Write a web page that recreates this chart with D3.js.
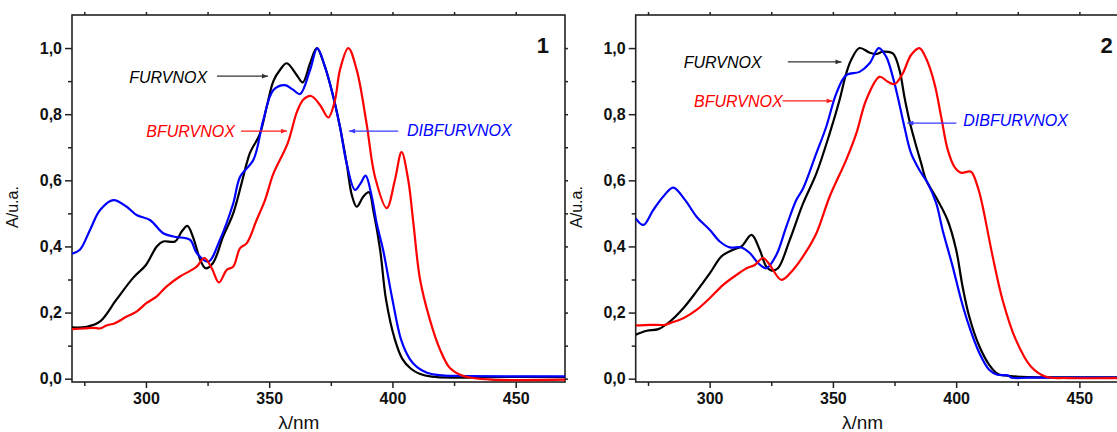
<!DOCTYPE html>
<html>
<head>
<meta charset="utf-8">
<script src="https://cdn.jsdelivr.net/npm/d3@7"></script>
<style>
  body { margin: 0; background: #fff; }
  svg { display: block; }
</style>
</head>
<body>
<div id="chart"></div>
<script>
// ---- data (wavelength nm, absorbance) ----
var xTicks = [300, 350, 400, 450];
var yTicks = [0, 0.2, 0.4, 0.6, 0.8, 1.0];

// panel 1
var p1FurWl  = [270, 276, 281.4, 288, 294.8, 300, 304.4, 307, 311.8, 314.5, 316.8, 319.2, 322, 324.2, 327.2, 331.3, 335.4, 340.9, 342.2, 346.3, 349, 351.7, 354.5, 357.1, 361.2, 363.6, 366.6, 369.3, 372.6, 376, 378.7, 381.4, 383.5, 385.5, 388.2, 390.5, 392.2, 395, 397.4, 401, 404, 407.5, 411, 416, 425, 440, 470];
var p1FurAbs = [0.155, 0.157, 0.173, 0.239, 0.305, 0.344, 0.40, 0.415, 0.415, 0.445, 0.462, 0.426, 0.36, 0.334, 0.35, 0.43, 0.50, 0.652, 0.683, 0.742, 0.823, 0.90, 0.935, 0.954, 0.918, 0.896, 0.954, 1.0, 0.944, 0.853, 0.762, 0.652, 0.556, 0.52, 0.551, 0.564, 0.51, 0.39, 0.239, 0.118, 0.06, 0.03, 0.015, 0.006, 0.003, 0.005, 0.005];

var p1DibWl  = [270, 273.2, 277.3, 281.4, 286.8, 292.2, 296.2, 301.6, 307, 311.1, 317.9, 320.6, 325.3, 330, 335.4, 338.2, 343.6, 347.6, 351.7, 356.4, 359.5, 362.5, 366.6, 369.5, 372.6, 376, 378.7, 381.4, 384.8, 387, 389.1, 391.6, 393.6, 396.2, 400, 403.5, 407, 410, 414, 420, 430, 470];
var p1DibAbs = [0.378, 0.39, 0.45, 0.51, 0.54, 0.52, 0.495, 0.48, 0.44, 0.43, 0.42, 0.38, 0.354, 0.42, 0.53, 0.611, 0.662, 0.782, 0.873, 0.888, 0.875, 0.861, 0.934, 1.0, 0.944, 0.853, 0.762, 0.652, 0.571, 0.59, 0.614, 0.551, 0.47, 0.39, 0.239, 0.118, 0.06, 0.035, 0.018, 0.01, 0.008, 0.007];

var p1BfuWl  = [270, 275, 278.7, 281.4, 284, 287.4, 292.2, 296.2, 300.3, 304.4, 308.4, 313.8, 317.9, 320.6, 323.7, 326.7, 329.6, 332.8, 335.4, 338.2, 340.9, 344.9, 348.3, 351.7, 357.4, 361.4, 364, 367, 370.6, 374, 376.7, 378.7, 382.1, 385.5, 389.5, 392.9, 397.7, 401, 403.7, 406.4, 408.5, 411.2, 415.2, 419.3, 423.3, 427.4, 432.7, 440, 470];
var p1BfuAbs = [0.15, 0.152, 0.154, 0.152, 0.161, 0.168, 0.188, 0.203, 0.229, 0.249, 0.279, 0.309, 0.326, 0.339, 0.365, 0.334, 0.291, 0.329, 0.339, 0.395, 0.41, 0.48, 0.54, 0.62, 0.71, 0.81, 0.845, 0.855, 0.828, 0.79, 0.843, 0.934, 1.0, 0.934, 0.772, 0.611, 0.516, 0.601, 0.685, 0.601, 0.47, 0.30, 0.178, 0.088, 0.032, 0.012, 0.002, -0.003, -0.003];

// panel 2
var p2FurWl  = [270, 274.5, 279.2, 283.9, 289.3, 294.7, 300.1, 304.8, 309.5, 312.9, 317, 320.3, 323, 325.1, 327.7, 332.5, 337.9, 343.3, 348.7, 352.7, 355.4, 357.4, 360.8, 364.9, 367.6, 370.2, 374.3, 377, 379, 381, 383.1, 385.8, 387.8, 391.9, 396.5, 400, 402.6, 405.3, 409.4, 413.4, 416.8, 422, 430, 470];
var p2FurAbs = [0.133, 0.145, 0.15, 0.173, 0.213, 0.264, 0.319, 0.37, 0.39, 0.40, 0.435, 0.39, 0.339, 0.327, 0.334, 0.42, 0.53, 0.621, 0.742, 0.843, 0.923, 0.964, 1.0, 0.986, 0.982, 0.989, 0.984, 0.934, 0.853, 0.782, 0.722, 0.652, 0.601, 0.548, 0.48, 0.39, 0.279, 0.188, 0.098, 0.042, 0.015, 0.008, 0.005, 0.004];

var p2DibWl  = [270, 273.1, 277.1, 281.2, 285.2, 290, 294.7, 300.1, 304.1, 308.2, 312.9, 316.3, 319.6, 323, 327.1, 331.1, 335.2, 337.9, 343.3, 347.3, 351.4, 355.4, 360.8, 364.9, 368.6, 371.6, 374.3, 376.3, 379, 381.7, 385.1, 388.5, 391.9, 394.5, 398.6, 402, 405.3, 409.4, 413.4, 416.7, 421, 422.5, 430, 470];
var p2DibAbs = [0.485, 0.465, 0.51, 0.551, 0.578, 0.541, 0.49, 0.45, 0.415, 0.397, 0.397, 0.38, 0.35, 0.334, 0.375, 0.46, 0.541, 0.575, 0.682, 0.762, 0.863, 0.918, 0.928, 0.954, 1.0, 0.974, 0.913, 0.853, 0.762, 0.682, 0.631, 0.591, 0.531, 0.45, 0.339, 0.239, 0.158, 0.078, 0.027, 0.012, 0.01, 0.003, 0.003, 0.003];

var p2BfuWl  = [270, 276, 282, 283.9, 289.3, 294.7, 300.1, 305.5, 310.9, 315, 318.3, 321.7, 324.4, 329.1, 333.8, 339.2, 343.3, 348.7, 355.4, 359.5, 363.5, 368.9, 372.3, 375, 378.3, 381.7, 385.1, 387.8, 391.2, 393.9, 396.6, 399.3, 402, 406, 408.7, 410.5, 414.8, 418.8, 424.2, 430.3, 436.4, 445, 470];
var p2BfuAbs = [0.161, 0.163, 0.163, 0.168, 0.183, 0.208, 0.244, 0.284, 0.314, 0.334, 0.344, 0.365, 0.344, 0.299, 0.329, 0.385, 0.44, 0.551, 0.662, 0.742, 0.843, 0.913, 0.898, 0.891, 0.923, 0.979, 1.0, 0.969, 0.893, 0.793, 0.692, 0.641, 0.623, 0.626, 0.581, 0.53, 0.37, 0.239, 0.118, 0.037, 0.006, 0.002, 0.002];

var seriesNames  = ["FURVNOX", "BFURVNOX", "DIBFURVNOX"];
var seriesColors = ["#000000", "#ff0000", "#0000ff"];
var arrowColors  = ["#333333", "#ff2020", "#3a3aff"];

function zip(wl, ab){ return wl.map(function(w, i){ return [w, ab[i]]; }); }

function init(){

  var panels = [
    { left: 72, tag: "1",
      series: [zip(p1FurWl, p1FurAbs), zip(p1BfuWl, p1BfuAbs), zip(p1DibWl, p1DibAbs)],
      // label anchor (nm, A), arrow from/to nm, arrow A
      notes: [
        { tx: 324.8, ty: 0.894, anchor: "end",   ax1: 328.8, ax2: 349.5, ay: 0.915 },
        { tx: 336.1, ty: 0.731, anchor: "end",   ax1: 338.6, ax2: 357.2, ay: 0.749 },
        { tx: 405.9, ty: 0.734, anchor: "start", ax1: 402.3, ax2: 382.4, ay: 0.749 }
      ] },
    { left: 635.7, tag: "2",
      series: [zip(p2FurWl, p2FurAbs), zip(p2BfuWl, p2BfuAbs), zip(p2DibWl, p2DibAbs)],
      notes: [
        { tx: 321.1, ty: 0.940, anchor: "end",   ax1: 331.7, ax2: 353.5, ay: 0.958 },
        { tx: 329.6, ty: 0.822, anchor: "end",   ax1: 329.6, ax2: 349.9, ay: 0.840 },
        { tx: 402.9, ty: 0.764, anchor: "start", ax1: 400.1, ax2: 380.2, ay: 0.773 }
      ] }
  ];

  var W = 1117, H = 432;
  var pw = 493, plotTop = 15, plotBottom = 382;
  var font = "'Liberation Sans', Arial, sans-serif";
  var axisColor = "#222";

  var locale = d3.formatLocale({decimal: ",", thousands: ".", grouping: [3], currency: ["", ""]});
  var fmtY = locale.format(".1f");

  var svg = d3.select("#chart").append("svg")
    .attr("width", W).attr("height", H);

  var defs = svg.append("defs");
  arrowColors.forEach(function(c, i){
    defs.append("marker")
      .attr("id", "arr" + i)
      .attr("viewBox", "0 0 10 10")
      .attr("refX", 10).attr("refY", 5)
      .attr("markerWidth", 7).attr("markerHeight", 6)
      .attr("markerUnits", "userSpaceOnUse")
      .attr("orient", "auto")
      .append("path").attr("d", "M0,1 L10,5 L0,9 Z").attr("fill", c);
  });

  panels.forEach(function(p, pi){
    var x = d3.scaleLinear().domain([270, 470]).range([p.left, p.left + pw]);
    var y = d3.scaleLinear().domain([-0.01, 1.1]).range([plotBottom, plotTop]);

    defs.append("clipPath").attr("id", "clip" + pi)
      .append("rect").attr("x", p.left).attr("y", plotTop)
      .attr("width", pw).attr("height", plotBottom - plotTop);

    var g = svg.append("g");

    var minorY = [0.1, 0.3, 0.5, 0.7, 0.9];
    var minorX = [275, 325, 375, 425];
    var allX = [275, 300, 325, 350, 375, 400, 425, 450];
    var allY = [0, 0.1, 0.2, 0.3, 0.4, 0.5, 0.6, 0.7, 0.8, 0.9, 1.0];

    function tickStyle(sel){
      sel.select(".domain").remove();
      sel.selectAll("line").attr("stroke", axisColor).attr("stroke-width", 1.5);
    }

    g.append("g").attr("transform", "translate(" + p.left + ",0)")
      .call(d3.axisLeft(y).tickValues(yTicks).tickSize(7).tickPadding(3).tickFormat(fmtY))
      .call(tickStyle)
      .selectAll("text").attr("font-family", font).attr("font-weight", "bold")
      .attr("font-size", 16).attr("fill", "#111");
    g.append("g").attr("transform", "translate(" + p.left + ",0)")
      .call(d3.axisLeft(y).tickValues(minorY).tickSize(4).tickFormat(""))
      .call(tickStyle);

    g.append("g").attr("transform", "translate(0," + plotBottom + ")")
      .call(d3.axisBottom(x).tickValues(xTicks).tickSize(6).tickPadding(5).tickFormat(d3.format("d")))
      .call(tickStyle)
      .selectAll("text").attr("font-family", font).attr("font-weight", "bold")
      .attr("font-size", 16).attr("fill", "#111");
    g.append("g").attr("transform", "translate(0," + plotBottom + ")")
      .call(d3.axisBottom(x).tickValues(minorX).tickSize(4).tickFormat(""))
      .call(tickStyle);

    g.append("g").attr("transform", "translate(0," + plotTop + ")")
      .call(d3.axisTop(x).tickValues(allX).tickSize(3).tickFormat(""))
      .call(tickStyle);
    g.append("g").attr("transform", "translate(" + (p.left + pw) + ",0)")
      .call(d3.axisRight(y).tickValues(allY).tickSize(3).tickFormat(""))
      .call(tickStyle);

    // frame
    g.append("rect")
      .attr("x", p.left).attr("y", plotTop)
      .attr("width", pw).attr("height", plotBottom - plotTop)
      .attr("fill", "none").attr("stroke", axisColor).attr("stroke-width", 1.6);

    // spectra
    var line = d3.line()
      .x(function(d){ return x(d[0]); })
      .y(function(d){ return y(d[1]); })
      .curve(d3.curveCatmullRom.alpha(0.5));

    var order = [0, 2, 1];
    g.append("g").attr("clip-path", "url(#clip" + pi + ")")
      .selectAll("path")
      .data(order)
      .enter()
      .append("path")
      .attr("d", function(i){ return line(p.series[i]); })
      .attr("fill", "none")
      .attr("stroke", function(i){ return seriesColors[i]; })
      .attr("stroke-width", 2.2)
      .attr("stroke-linejoin", "round");

    // annotations
    p.notes.forEach(function(n, i){
      g.append("text")
        .attr("x", x(n.tx)).attr("y", y(n.ty))
        .attr("text-anchor", n.anchor)
        .attr("font-family", font).attr("font-style", "italic")
        .attr("font-size", 16)
        .attr("fill", seriesColors[i])
        .text(seriesNames[i]);
      g.append("line")
        .attr("x1", x(n.ax1)).attr("x2", x(n.ax2))
        .attr("y1", y(n.ay)).attr("y2", y(n.ay))
        .attr("stroke", arrowColors[i]).attr("stroke-width", 1.2)
        .attr("marker-end", "url(#arr" + i + ")");
    });

    // panel number
    g.append("text")
      .attr("x", x(461)).attr("y", 53)
      .attr("text-anchor", "middle")
      .attr("font-family", font).attr("font-weight", "bold")
      .attr("font-size", 22).attr("fill", "#111")
      .text(p.tag);

    // axis titles
    g.append("text")
      .attr("x", x(362)).attr("y", 429)
      .attr("text-anchor", "middle")
      .attr("font-family", font).attr("font-size", 19).attr("fill", "#111")
      .text("λ/nm");
    g.append("text")
      .attr("transform", "translate(" + (p.left - 54) + ",207) rotate(-90)")
      .attr("text-anchor", "middle")
      .attr("font-family", font).attr("font-size", 16).attr("fill", "#111")
      .text("A/u.a.");
  });
}
window.onload = init;
</script>
</body>
</html>
